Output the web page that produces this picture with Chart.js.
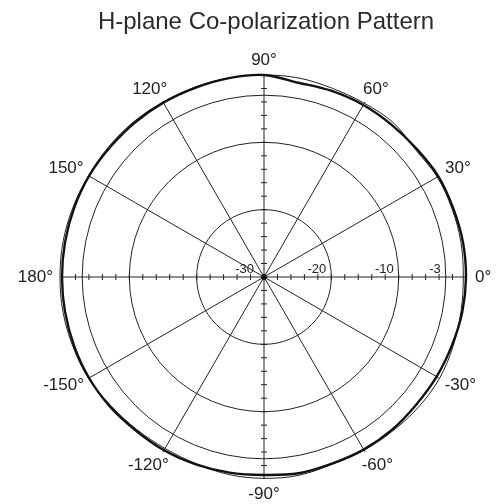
<!DOCTYPE html>
<html><head><meta charset="utf-8">
<script src="https://cdn.jsdelivr.net/npm/chart.js@4/dist/chart.umd.min.js"></script>
<style>html,body{margin:0;padding:0;background:#fff}canvas{display:block}</style>
</head><body>
<canvas id="c" width="500" height="504"></canvas>
<script>
const titleText = 'H-plane Co-polarization Pattern';
// angles in clockwise order starting at the top (90°)
const angles = [90,80,70,60,50,40,30,20,10,0,-10,-20,-30,-40,-50,-60,-70,-80,-90,-100,-110,-120,-130,-140,-150,-160,-170,180,170,160,150,140,130,120,110,100];
const thickDB = [0,-0.7,-0.6,-0.5,-0.5,-0.4,-0.1,-0.1,0,0,-0.1,-0.3,-0.4,-0.5,-0.4,-0.4,-0.5,-0.4,-0.6,-0.5,-0.4,-0.3,-0.3,-0.1,0,0,0,0,0,0,0,-0.1,-0.1,-0.1,-0.1,0];
const thinDB  = [0,0,-0.2,-0.2,-0.1,-0.6,-0.3,-0.3,-0.3,-0.4,-0.3,-0.1,0.1,0,-0.2,-0.3,-0.4,-0.1,-0.1,-0.2,-0.5,-0.6,-0.5,-0.3,0.1,0.2,0.3,0.3,0.3,0.2,0.1,0.1,0.1,0,0,0];
const ringValues = [-30,-20,-10,-3];
const ringLabels = ['-30','-20','-10','-3'];
const spokeAngles = [90,60,30,0,-30,-60,-90,-120,-150,180,150,120];
const spokeLabels = ['90°','60°','30°','0°','-30°','-60°','-90°','-120°','-150°','180°','150°','120°'];
const minorTicks = [-28,-26,-24,-22,-20,-18,-16,-14,-12,-10,-8,-6,-4,-2];
const axisAngles = [90,0,-90,180];

const FONT = '"Liberation Sans", Arial, sans-serif';
const INK = '#222';

const overlay = {
  id: 'overlay',
  afterDraw(chart) {
    const ctx = chart.ctx;
    const s = chart.scales.r;
    const cx = s.xCenter, cy = s.yCenter;
    ctx.save();
    ctx.strokeStyle = INK;
    ctx.lineWidth = 1;
    axisAngles.forEach(a => {
      const idx = angles.indexOf(a);
      minorTicks.forEach(v => {
        const p = s.getPointPositionForValue(idx, v);
        const t = a * Math.PI / 180;
        const nx = Math.sin(t) * 3, ny = Math.cos(t) * 3;
        ctx.beginPath();
        ctx.moveTo(p.x - nx, p.y - ny);
        ctx.lineTo(p.x + nx, p.y + ny);
        ctx.stroke();
      });
    });
    ctx.fillStyle = '#111';
    ctx.beginPath();
    ctx.arc(cx, cy, 3, 0, Math.PI * 2);
    ctx.fill();
    ctx.fillStyle = INK;
    ctx.font = '13px ' + FONT;
    ctx.textAlign = 'right';
    ctx.textBaseline = 'alphabetic';
    ringValues.forEach((v, i) => {
      const d = s.getDistanceFromCenterForValue(v);
      ctx.fillText(ringLabels[i], cx + d - (d === 0 ? 10 : 5), cy - 4);
    });
    ctx.font = '17px ' + FONT;
    ctx.textAlign = 'center';
    ctx.textBaseline = 'middle';
    const outer = s.getDistanceFromCenterForValue(0) + 9;
    spokeAngles.forEach((a, i) => {
      const idx = angles.indexOf(a);
      const p = s.getPointPosition(idx, outer);
      const t = a * Math.PI / 180;
      const w = ctx.measureText(spokeLabels[i]).width;
      const x = p.x + Math.cos(t) * w / 2;
      const y = p.y - Math.sin(t) * 6;
      ctx.fillText(spokeLabels[i], x, y);
    });
    ctx.font = '24px ' + FONT;
    ctx.fillStyle = '#2a2a2a';
    ctx.fillText(titleText, 266, 22);
    ctx.restore();
  }
};

new Chart(document.getElementById('c'), {
  type: 'radar',
  data: {
    labels: angles.map(a => a + '°'),
    datasets: [
      { data: thickDB, borderColor: '#111', borderWidth: 2.4, pointRadius: 0, fill: false, tension: 0.35 },
      { data: thinDB, borderColor: '#222', borderWidth: 1, pointRadius: 0, fill: false, tension: 0.35 }
    ]
  },
  options: {
    responsive: false,
    animation: false,
    layout: { padding: { left: 62, right: 34, top: 75, bottom: 25 } },
    plugins: { legend: { display: false }, tooltip: { enabled: false }, title: { display: false } },
    scales: {
      r: {
        min: -30, max: 0,
        ticks: { display: false, stepSize: 10 },
        afterBuildTicks: (scale) => { scale.ticks = ringValues.map(v => ({ value: v })); },
        pointLabels: { display: false },
        grid: { circular: true, color: INK, lineWidth: 1 },
        angleLines: {
          display: true,
          lineWidth: 1,
          color: (c) => (c.index % 3 === 0 ? INK : 'rgba(0,0,0,0)')
        }
      }
    }
  },
  plugins: [overlay]
});
</script>
</body></html>
